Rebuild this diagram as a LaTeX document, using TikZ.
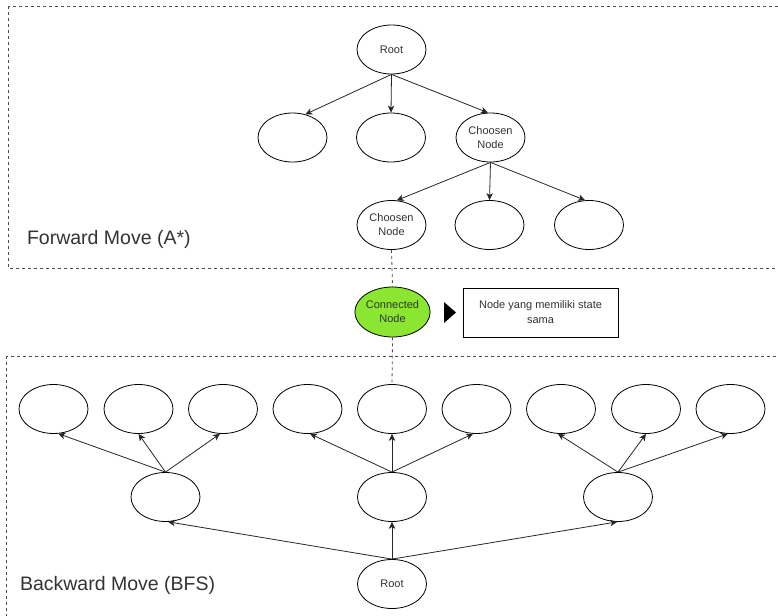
\documentclass[tikz,border=0pt]{standalone}
\usepackage{fontspec}
\setmainfont{Liberation Sans}
\usetikzlibrary{shapes.geometric,arrows.meta}
\definecolor{txt}{HTML}{333333}
\definecolor{conn}{RGB}{138,230,48}
\tikzset{
  state/.style={ellipse, draw=black, line width=0.8pt, minimum width=69pt,
    minimum height=49pt, inner sep=0pt, align=center, text=txt,
    font=\fontsize{11}{14}\selectfont},
  link/.style={draw=black!85, line width=0.8pt,
    -{Stealth[length=7pt,width=6.5pt,inset=2pt]}},
  region/.style={draw=black!70, line width=0.8pt, dash pattern=on 3pt off 3pt},
  joinline/.style={draw=black!70, line width=0.8pt, dash pattern=on 3pt off 3pt},
  caption/.style={anchor=west, text=txt, font=\fontsize{19.5}{23}\selectfont},
  notebox/.style={draw=black, line width=0.8pt, minimum width=155pt,
    minimum height=49pt, align=center, text=txt, font=\fontsize{11}{15}\selectfont}
}
\begin{document}
\begin{tikzpicture}[x=1pt,y=-1pt]
\clip (0,0) rectangle (778,615);
\fill[white] (0,0) rectangle (778,615);

% search regions
\draw[region] (8,6) rectangle (800,268);
\draw[region] (6,356) rectangle (800,640);
\node[caption] (fwd) at (23.5,239) {Forward Move (A*)};
\node[caption] (bwd) at (16.5,585) {Backward Move (BFS)};

% forward tree (A*)
\node[state] (froot) at (391.5,49.5) {Root};
\node[state] (fa) at (292.5,137.5) {};
\node[state] (fb) at (391,137.5) {};
\node[state] (fc) at (490.5,137.5) {Choosen\\Node};
\node[state] (fd) at (391.5,225) {Choosen\\Node};
\node[state] (fe) at (489.5,225) {};
\node[state] (ff) at (589,225) {};

\draw[link] (froot.south) -- (fa.61);
\draw[link] (froot.south) -- (fb.north);
\draw[link] (froot.south) -- (fc.96);
\draw[link] (fc.south) -- (fd.78);
\draw[link] (fc.south) -- (fe.north);
\draw[link] (fc.south) -- (ff.99);

% meeting point
\node[state, fill=conn, minimum height=50pt] (meet) at (392.5,312) {Connected\\Node};
\fill[black] (444,302) -- (456,312.5) -- (444,323) -- cycle;
\node[notebox] (note) at (540.5,312.5) {Node yang memiliki state\\sama};

% backward tree (BFS)
\node[state] (broot) at (392,584) {Root};
\node[state] (bl) at (165.5,497) {};
\node[state] (bm) at (392,497) {};
\node[state] (br) at (618,497) {};
\node[state] (l1) at (53.5,409) {};
\node[state] (l2) at (138.5,409) {};
\node[state] (l3) at (223,409) {};
\node[state] (m1) at (307.5,409) {};
\node[state] (m2) at (392,409) {};
\node[state] (m3) at (476.5,409) {};
\node[state] (r1) at (561,409) {};
\node[state] (r2) at (646,409) {};
\node[state] (r3) at (730.5,409) {};

\draw[link] (broot.north) -- (bl.276);
\draw[link] (broot.north) -- (bm.south);
\draw[link] (broot.north) -- (br.268);
\draw[link] (bl.north) -- (l1.281);
\draw[link] (bl.north) -- (l2.south);
\draw[link] (bl.north) -- (l3.263);
\draw[link] (bm.north) -- (m1.276);
\draw[link] (bm.north) -- (m2.south);
\draw[link] (bm.north) -- (m3.262);
\draw[link] (br.north) -- (r1.263);
\draw[link] (br.north) -- (r2.south);
\draw[link] (br.north) -- (r3.264);

% link between both searches
\draw[joinline] (fd.south) -- (meet.north);
\draw[joinline] (meet.south) -- (m2.north);
\end{tikzpicture}
\end{document}
